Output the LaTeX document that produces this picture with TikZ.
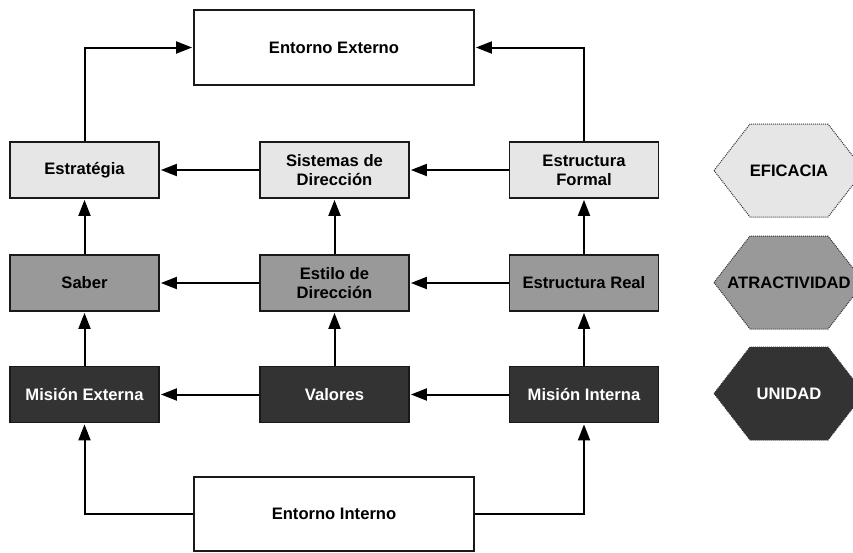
\documentclass[tikz,border=0pt]{standalone}
\usepackage{fontspec}
\setmainfont{Liberation Sans}
\usepackage{tikz}
\usetikzlibrary{arrows.meta, positioning, calc}
\usepackage{xcolor}
\definecolor{lightgray}{RGB}{230,230,230}
\definecolor{midgray}{RGB}{153,153,153}
\definecolor{darkgray}{RGB}{51,51,51}
\definecolor{edge}{RGB}{25,25,25}

\tikzset{
  box/.style={draw=edge, line width=1.8pt, minimum width=149pt, minimum height=56pt,
    align=center, font=\fontsize{16.6}{18.8}\selectfont\bfseries},
  envbox/.style={box, fill=white, minimum width=280pt, minimum height=75pt},
  lightbox/.style={box, fill=lightgray},
  midbox/.style={box, fill=midgray},
  darkbox/.style={box, fill=darkgray, text=white},
  arr/.style={-{Triangle[length=16pt, width=12pt]}, line width=2pt, black, shorten >=1pt},
}

\begin{document}
\begin{tikzpicture}[x=1pt, y=-1pt]
  \useasboundingbox (0,0) rectangle (853,552);
  % Entornos
  \node[envbox] (externo) at (334,47.5) {Entorno Externo};
  \node[envbox, minimum height=74pt] (interno) at (334,514) {Entorno Interno};
  % Boxes
  \node[lightbox] (estrategia) at (84.5,170) {Estratégia};
  \node[lightbox] (sistemas) at (334.5,170) {Sistemas de\\Dirección};
  \node[lightbox] (formal) at (584,170) {Estructura\\Formal};
  \node[midbox] (saber) at (84.5,283) {Saber};
  \node[midbox] (estilo) at (334.5,283) {Estilo de\\Dirección};
  \node[midbox] (real) at (584,283) {Estructura Real};
  \node[darkbox] (misionext) at (84.5,394.5) {Misión Externa};
  \node[darkbox] (valores) at (334.5,394.5) {Valores};
  \node[darkbox] (misionint) at (584,394.5) {Misión Interna};
  % Arrows
  \foreach \a/\b in {sistemas/estrategia, formal/sistemas, estilo/saber, real/estilo,
                     valores/misionext, misionint/valores, saber/estrategia, estilo/sistemas,
                     real/formal, misionext/saber, valores/estilo, misionint/real} {
    \draw[arr] (\a) -- (\b);
  }
  \draw[arr] (estrategia.north) |- (externo.west);
  \draw[arr] (formal.north) |- (externo.east);
  \draw[arr] (interno.west) -| (misionext.south);
  \draw[arr] (interno.east) -| (misionint.south);
  % Legend
  \foreach \y/\name/\col/\txt/\tcol in {170.5/eficacia/lightgray/EFICACIA/black,
      282.5/atractividad/midgray/ATRACTIVIDAD/black, 393.5/unidad/darkgray/UNIDAD/white} {
    \draw[fill=\col, draw=darkgray, densely dotted, line width=1pt]
      (714,\y) -- (750,\y-46.5) -- (828,\y-46.5) -- (864,\y) -- (828,\y+46.5) -- (750,\y+46.5) -- cycle;
    \node[font=\fontsize{16.6}{18.8}\selectfont\bfseries, text=\tcol] (\name) at (789,\y) {\txt};
  }
\end{tikzpicture}
\end{document}
